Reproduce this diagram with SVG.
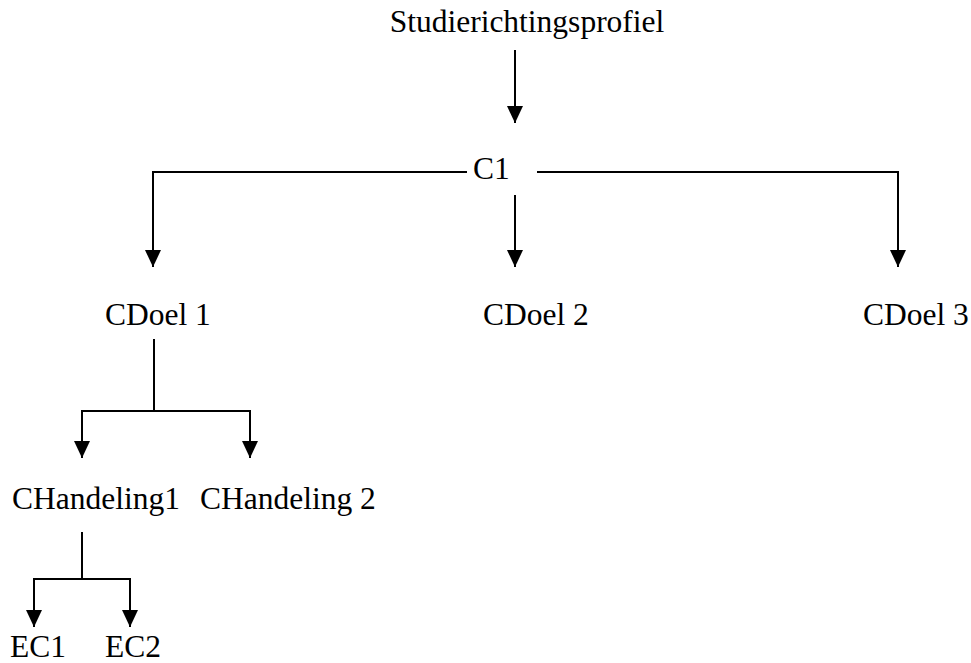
<svg xmlns="http://www.w3.org/2000/svg" width="971" height="663" viewBox="0 0 971 663">
<style>
text { font-family: "Liberation Serif", "Times New Roman", serif; font-size: 31.5px; fill: #000; }
.c { fill: none; stroke: #000; stroke-width: 2; }
</style>
<defs>
<marker id="ah" markerUnits="userSpaceOnUse" markerWidth="17" markerHeight="16" refX="17" refY="8" orient="auto" viewBox="0 0 17 16">
<path d="M0,0 L17,8 L0,16 z" fill="#000"/>
</marker>
</defs>
<rect width="971" height="663" fill="#fff"/>
<g id="connectors">
<path class="c" d="M515,50 V123" marker-end="url(#ah)"/>
<path class="c" d="M467,172 H153 V267" marker-end="url(#ah)"/>
<path class="c" d="M515,195 V267" marker-end="url(#ah)"/>
<path class="c" d="M537,172 H898 V267" marker-end="url(#ah)"/>
<path class="c" d="M154,339 V411"/>
<path class="c" d="M153,411 H82 V458" marker-end="url(#ah)"/>
<path class="c" d="M153,411 H250 V458" marker-end="url(#ah)"/>
<path class="c" d="M82,532 V579"/>
<path class="c" d="M82,579 H34 V627" marker-end="url(#ah)"/>
<path class="c" d="M82,579 H130 V627" marker-end="url(#ah)"/>
</g>
<g id="n-profiel"><text x="527" y="32" text-anchor="middle">Studierichtingsprofiel</text></g>
<g id="n-c1"><text x="473" y="179">C1</text></g>
<g id="n-cdoel1"><text x="105" y="325">CDoel 1</text></g>
<g id="n-cdoel2"><text x="483" y="325">CDoel 2</text></g>
<g id="n-cdoel3"><text x="863" y="325">CDoel 3</text></g>
<g id="n-ch1"><text x="12" y="509">CHandeling1</text></g>
<g id="n-ch2"><text x="200" y="509">CHandeling 2</text></g>
<g id="n-ec1"><text x="10" y="657">EC1</text></g>
<g id="n-ec2"><text x="105" y="657">EC2</text></g>
</svg>
